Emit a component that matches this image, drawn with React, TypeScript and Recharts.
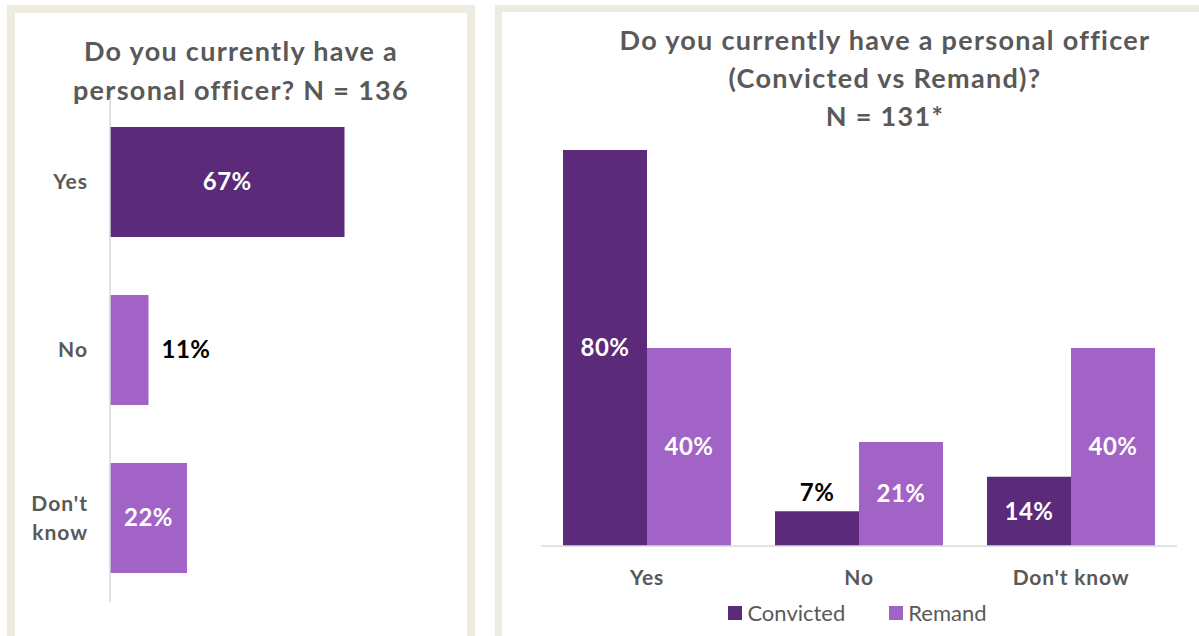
import React from 'react';
import { Bar, BarChart, Cell, LabelList, Legend, XAxis, YAxis } from 'recharts';

const categories = ['Yes', 'No', "Don't know"];
const overallValues = [67, 11, 22];
const convictedValues = [80, 7, 14];
const remandValues = [40, 21, 40];
const seriesNames = ['Convicted', 'Remand'];

const DARK = '#5B2A78';
const LIGHT = '#A263C7';
const GREY = '#595959';
const BORDER = '#EEECE1';
const FONT = 'Lato, "Open Sans", sans-serif';

const overallData = categories.map((name, i) => ({ name, value: overallValues[i] }));
const splitData = categories.map((name, i) => ({
  name,
  convicted: convictedValues[i],
  remand: remandValues[i],
}));

function LeftTick(props: any) {
  const { x, y, payload } = props;
  const lines = payload.value === "Don't know" ? ["Don't", 'know'] : [payload.value];
  const lh = 29;
  const start = y - ((lines.length - 1) * lh) / 2;
  return (
    <text x={x} y={start} textAnchor="end" fill={GREY} fontSize={21} fontWeight={700} fontFamily={FONT} letterSpacing={1}>
      {lines.map((l, i) => (
        <tspan key={l} x={x} y={start + i * lh} dy="0.35em">
          {l}
        </tspan>
      ))}
    </text>
  );
}

function HorizLabel(props: any) {
  const { x, y, width, height, value } = props;
  const outside = value < 15;
  return (
    <text
      x={outside ? x + width + 13 : x + width / 2}
      y={y + height / 2}
      dy="0.35em"
      textAnchor={outside ? 'start' : 'middle'}
      fill={outside ? '#000000' : '#ffffff'}
      fontSize={24}
      fontWeight={700}
      fontFamily={FONT}
      letterSpacing={0.5}
    >
      {value}%
    </text>
  );
}

function ColLabel(props: any) {
  const { x, y, width, height, value } = props;
  const outside = value < 10;
  return (
    <text
      x={x + width / 2}
      y={outside ? y - 19 : y + height / 2}
      dy="0.35em"
      textAnchor="middle"
      fill={outside ? '#000000' : '#ffffff'}
      fontSize={24}
      fontWeight={700}
      fontFamily={FONT}
      letterSpacing={0.5}
    >
      {value}%
    </text>
  );
}

function LegendBox() {
  const colors = [DARK, LIGHT];
  return (
    <div style={{ display: 'flex', justifyContent: 'center', paddingLeft: 14, fontFamily: FONT }}>
      {seriesNames.map((n, i) => (
        <div key={n} style={{ display: 'flex', alignItems: 'center', marginRight: i === 0 ? 44 : 0 }}>
          <span style={{ width: 14, height: 14, background: colors[i], display: 'inline-block', marginRight: 5 }} />
          <span style={{ fontSize: 22, color: GREY }}>{n}</span>
        </div>
      ))}
    </div>
  );
}

export default function App() {
  return (
    <div style={{ position: 'absolute', left: 0, top: 0, width: 1199, height: 636, overflow: 'hidden', background: '#fff' }}>
      <div style={{ position: 'absolute', left: 7, top: 5, width: 468, height: 640, border: `8px solid ${BORDER}`, boxSizing: 'border-box' }} />
      <div style={{ position: 'absolute', left: 495, top: 5, width: 800, height: 640, border: `7px solid ${BORDER}`, boxSizing: 'border-box' }} />

      <div
        style={{
          position: 'absolute', left: 15, top: 31, width: 452, textAlign: 'center',
          fontFamily: FONT, fontWeight: 700, fontSize: 27, letterSpacing: 1.3, lineHeight: '39px', color: GREY,
        }}
      >
        Do you currently have a<br />personal officer? N = 136
      </div>
      <div
        style={{
          position: 'absolute', left: 502, top: 21, width: 766, textAlign: 'center',
          fontFamily: FONT, fontWeight: 700, fontSize: 27, letterSpacing: 1.3, lineHeight: '38px', color: GREY,
        }}
      >
        Do you currently have a personal officer<br />(Convicted vs Remand)?<br />N = 131*
      </div>

      <div style={{ position: 'absolute', left: 15, top: 13 }}>
        <BarChart width={452} height={619} data={overallData} layout="vertical" margin={{ top: 85, right: 7, left: 0, bottom: 30 }}>
          <XAxis type="number" domain={[0, 100]} hide />
          <YAxis
            type="category"
            dataKey="name"
            width={95}
            axisLine={{ stroke: '#D9D9D9', strokeWidth: 1.5 }}
            tickLine={false}
            tickSize={0}
            tickMargin={22}
            tick={<LeftTick />}
          />
          <Bar dataKey="value" barSize={110} isAnimationActive={false}>
            {overallData.map((d, i) => (
              <Cell key={d.name} fill={i === 0 ? DARK : LIGHT} />
            ))}
            <LabelList dataKey="value" content={<HorizLabel />} />
          </Bar>
        </BarChart>
      </div>

      <div style={{ position: 'absolute', left: 502, top: 13 }}>
        <BarChart width={697} height={619} data={splitData} barGap={0} margin={{ top: 137, right: 22, left: 39, bottom: 56 }}>
          <XAxis
            dataKey="name"
            axisLine={{ stroke: '#D9D9D9', strokeWidth: 1.5 }}
            tickLine={false}
            tickSize={0}
            tickMargin={24}
            tick={{ fill: GREY, fontSize: 21, fontWeight: 700, fontFamily: FONT, letterSpacing: 0.8 }}
          />
          <YAxis type="number" domain={[0, 80]} hide />
          <Legend
            verticalAlign="middle"
            wrapperStyle={{ top: 586, left: 0, width: 697 }}
            content={<LegendBox />}
          />
          <Bar dataKey="convicted" name={seriesNames[0]} fill={DARK} barSize={84} isAnimationActive={false}>
            <LabelList dataKey="convicted" content={<ColLabel />} />
          </Bar>
          <Bar dataKey="remand" name={seriesNames[1]} fill={LIGHT} barSize={84} isAnimationActive={false}>
            <LabelList dataKey="remand" content={<ColLabel />} />
          </Bar>
        </BarChart>
      </div>
    </div>
  );
}
